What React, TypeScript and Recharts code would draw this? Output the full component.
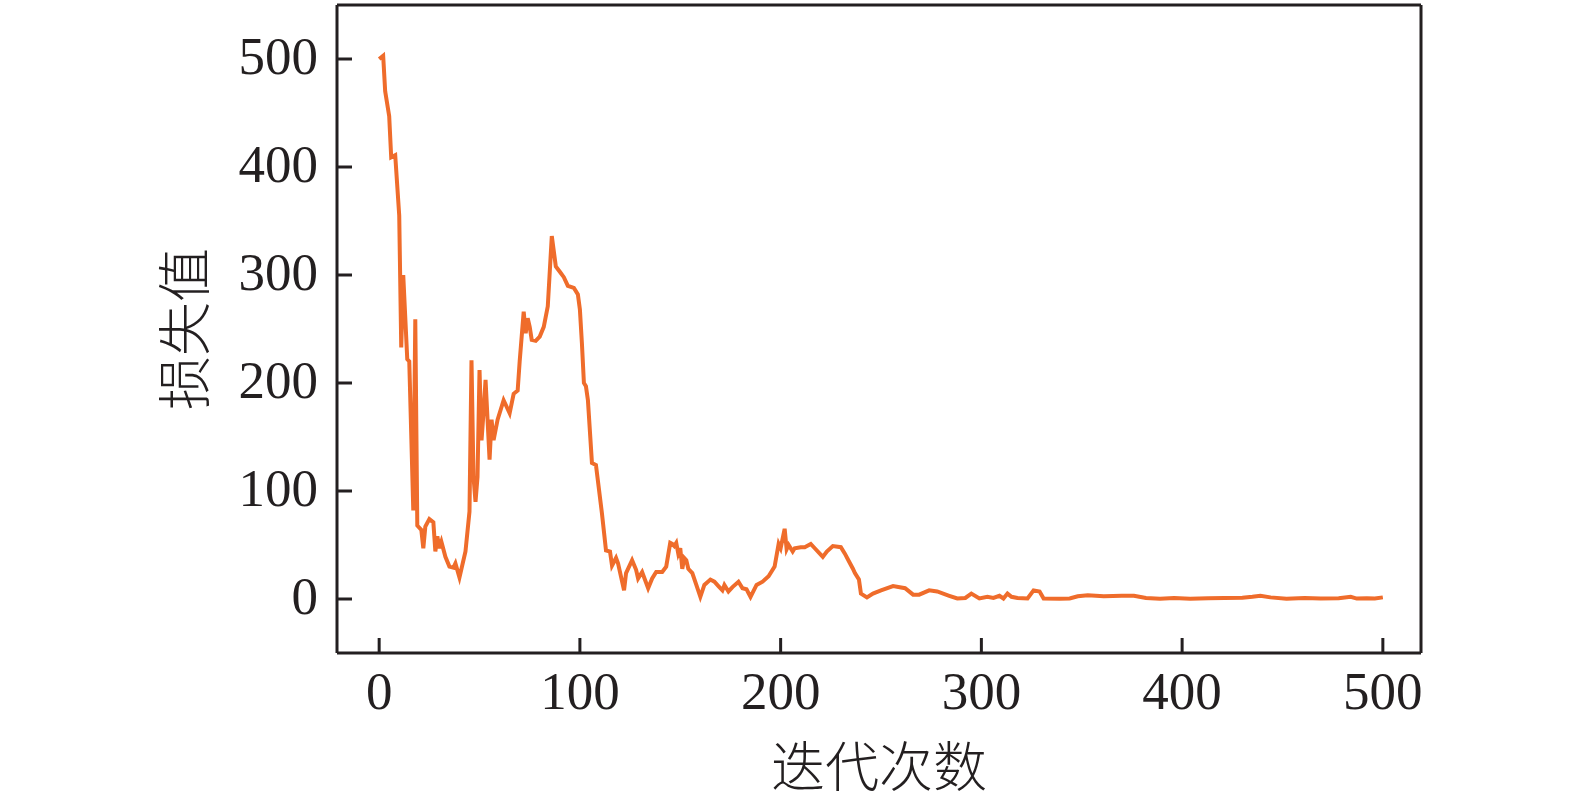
import { Line, LineChart, ReferenceLine, XAxis, YAxis } from "recharts";

const iterations = [
  0, 2, 3, 5, 6, 8, 10, 11, 12, 14, 15, 17, 18, 19, 21, 22, 23, 25, 27, 28, 29, 30, 31, 33, 35, 37, 38, 40,
  43, 45, 46, 47, 48, 49, 50, 51, 52, 53, 55, 56, 57, 59, 62, 65, 67, 69, 70, 72, 73, 74, 75, 76, 78, 80,
  82, 84, 86, 88, 90, 92, 94, 97, 99, 100, 101, 102, 103, 104, 106, 108, 111, 113, 115, 116, 118, 119,
  122, 123, 126, 128, 129, 131, 134, 136, 138, 141, 143, 145, 146, 147, 148, 149, 150, 151, 152, 153, 154,
  156, 158, 160, 162, 165, 167, 169, 171, 172, 174, 176, 179, 181, 183, 185, 188, 191, 194, 197, 199, 200,
  202, 203, 204, 206, 207, 210, 212, 215, 217, 221, 223, 226, 230, 232, 234, 236, 237, 239, 240, 243, 246,
  250, 256, 262, 266, 269, 274, 278, 284, 288, 292, 295, 299, 303, 306, 309, 311, 313, 315, 318, 323, 326,
  329, 331, 339, 344, 348, 353, 361, 370, 376, 382, 389, 396, 404, 413, 421, 430, 435, 439, 444, 452, 461,
  469, 478, 484, 487, 492, 496, 500,
];

const lossValues = [
  500, 503, 470, 447, 409, 411, 355, 233, 300, 222, 220, 82, 259, 68, 64, 47, 67, 74, 71, 44, 58, 47, 53, 39, 30, 29, 33, 20,
  44, 81, 221, 113, 90, 113, 212, 147, 173, 203, 129, 166, 147, 166, 184, 172, 190, 193, 220, 266, 246, 260, 252, 240, 239, 243,
  252, 271, 336, 308, 303, 298, 290, 288, 282, 268, 237, 200, 197, 184, 126, 124, 79, 45, 44, 31, 38, 33,
  8, 24, 36, 27, 19, 25, 10, 19, 25, 25, 30, 52, 51, 49, 52, 42, 47, 28, 38, 36, 28,
  24, 13, 2, 13, 18, 16, 12, 8, 13, 7, 11, 16, 10, 9, 2, 13, 16, 21, 30, 51, 47,
  65, 46, 50, 44, 47, 48, 48, 51, 47, 39, 44, 49, 48, 42, 35, 28, 24, 18, 5, 1.5, 5,
  8, 12, 10, 4, 4, 8, 7, 3, 0.5, 1, 5, 0.5, 2, 1, 3, 0.5, 5, 2, 1, 0.5, 8,
  7, 0.5, 0.3, 0.5, 2.5, 3.5, 2.5, 3, 3, 1, 0.3, 1, 0.3, 0.8, 1, 1.2, 2, 3, 1.5, 0.3, 1,
  0.4, 0.6, 2, 0.4, 0.6, 0.4, 1.5,
];

const xTicks = [0, 100, 200, 300, 400, 500];
const yTicks = [0, 100, 200, 300, 400, 500];

const data = iterations.map((iter, i) => ({ iter, loss: lossValues[i] }));

const INK = "#231f20";
const tickFont = { fontFamily: "'Liberation Serif', 'DejaVu Serif', serif", fontSize: 53, fill: INK };
const titleFont = "'Noto Sans CJK SC', sans-serif";

function YTitle(props: any) {
  const { viewBox } = props;
  const cx = viewBox.x + 181;
  const cy = viewBox.y + viewBox.height / 2;
  return (
    <text
      x={cx}
      y={cy}
      transform={`rotate(-90 ${cx} ${cy})`}
      textAnchor="middle"
      dominantBaseline="central"
      fontFamily={titleFont}
      fontSize={54}
      fontWeight={300}
      fill={INK}
    >
      损失值
    </text>
  );
}

function XTitle(props: any) {
  const { viewBox } = props;
  const cx = viewBox.x + viewBox.width / 2;
  const cy = viewBox.y + 110;
  return (
    <text
      x={cx}
      y={cy}
      textAnchor="middle"
      dominantBaseline="central"
      fontFamily={titleFont}
      fontSize={54}
      fontWeight={300}
      fill={INK}
    >
      迭代次数
    </text>
  );
}

export default function App() {
  return (
    <div style={{ position: "absolute", left: 0, top: 0, background: "#fff" }}>
      <LineChart width={1575} height={803} data={data} margin={{ top: 5, right: 154, bottom: 0, left: 0 }}>
        <XAxis
          dataKey="iter"
          type="number"
          domain={[-21, 519]}
          ticks={xTicks}
          height={150}
          axisLine={{ stroke: INK, strokeWidth: 3 }}
          tickLine={{ stroke: INK, strokeWidth: 3 }}
          tickSize={-15}
          tickMargin={33}
          tick={tickFont}
          allowDataOverflow
          label={<XTitle />}
        />
        <YAxis
          type="number"
          domain={[-50, 550]}
          ticks={yTicks}
          width={337}
          axisLine={{ stroke: INK, strokeWidth: 3 }}
          tickLine={{ stroke: INK, strokeWidth: 3 }}
          tickSize={-15}
          tickMargin={34}
          tick={{ ...tickFont, dy: -4 }}
          allowDataOverflow
          label={<YTitle />}
        />
        <ReferenceLine y={550} stroke={INK} strokeWidth={3} />
        <ReferenceLine x={519} stroke={INK} strokeWidth={3} />
        <Line
          type="linear"
          dataKey="loss"
          stroke="#ef6c2b"
          strokeWidth={4}
          dot={false}
          isAnimationActive={false}
        />
      </LineChart>
    </div>
  );
}
